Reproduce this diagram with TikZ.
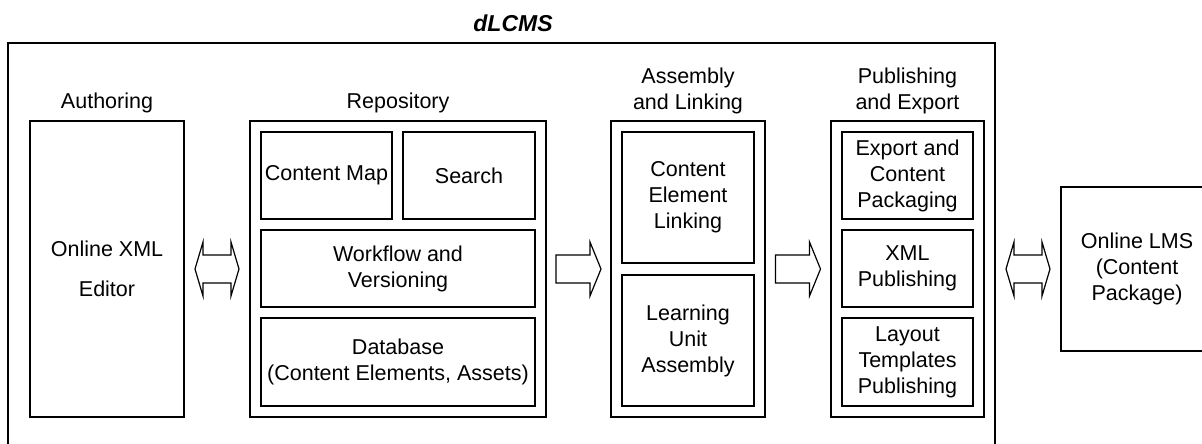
\documentclass[tikz,border=0pt]{standalone}
\usepackage{fontspec}
\setmainfont{Liberation Sans}
\usetikzlibrary{calc}
\tikzset{
  lw/.style={line width=1.2pt},
  txt/.style={font=\fontsize{21.5}{26}\selectfont, align=center, inner sep=0pt},
  box/.style={txt, draw, lw, minimum width=#1},
  box/.default=131pt,
  blockarrow/.style={draw, lw, fill=white, line join=miter},
  rarrow/.pic={\path[blockarrow] (-22.5,-14) -- (11.5,-14) -- (11.5,-27) -- (22.5,0) -- (11.5,27) -- (11.5,14) -- (-22.5,14) -- cycle;},
  darrow/.pic={\path[blockarrow] (-22,0) -- (-14,-27) -- (-14,-14) -- (14,-14) -- (14,-27) -- (22,0) -- (14,27) -- (14,14) -- (-14,14) -- (-14,27) -- cycle;},
}
\begin{document}
\begin{tikzpicture}[x=1pt,y=-1pt]
\useasboundingbox (0,0) rectangle (1202,444);
\fill[white] (0,0) rectangle (1202,444);
\clip (0,0) rectangle (1202,444);

% outer dLCMS frame (bottom edge outside the picture)
\coordinate (oBL) at (8,470);
\coordinate (oBR) at (995,470);
\draw[lw] (oBL) -- (8,43) -- (995,43) -- (oBR);
\node[txt, font=\fontsize{23}{26}\selectfont\bfseries\itshape, anchor=base] (title) at (513,32) {dLCMS};

% column headings
\node[txt, anchor=base] (hAuth) at (107,108) {Authoring};
\node[txt, anchor=base] (hRepo) at (398,108) {Repository};
\node[txt, anchor=north] (hAsm) at (688,67.3) {Assembly\\and Linking};
\node[txt, anchor=north] (hPub) at (907.5,67.3) {Publishing\\and Export};

% Authoring
\node[box=154pt, minimum height=296pt] (auth) at (107,269) {Online XML\\[14pt]Editor};

% Repository
\node[box=296pt, minimum height=296pt] (repo) at (398,269) {};
\node[box=131pt, minimum height=87pt] (cmap) at (326.5,175.5) {Content Map};
\node[box=132pt, minimum height=87pt] (search) at (469,175.5) {Search};
\node[box=274pt, minimum height=77pt] (wf) at (398,268.5) {Workflow and\\Versioning};
\node[box=274pt, minimum height=88pt] (db) at (398,362) {Database\\(Content Elements, Assets)};

% Assembly and Linking
\node[box=154pt, minimum height=296pt] (asm) at (688,269) {};
\node[box=132pt, minimum height=131pt] (cel) at (688,197.5) {Content\\Element\\Linking};
\node[box=132pt, minimum height=131pt] (lua) at (688,340.5) {Learning\\Unit\\Assembly};

% Publishing and Export
\node[box=153pt, minimum height=296pt] (pub) at (907.5,269) {};
\node[box=131pt, minimum height=87pt] (exp) at (907.5,175.5) {Export and\\Content\\Packaging};
\node[box=131pt, minimum height=77pt] (xmlp) at (907.5,268.5) {XML\\Publishing};
\node[box=131pt, minimum height=88pt] (lay) at (907.5,362) {Layout\\Templates\\Publishing};

% Online LMS (right edge outside the picture)
\coordinate (lmsTL) at (1061,187);
\draw[lw] (1230,187) -- (lmsTL) -- (1061,351) -- (1230,351);
\node[txt] (lms) at (1137,269) {Online LMS\\(Content\\Package)};

% block arrows
\coordinate (oR) at (995,269);
\pic at ($(auth.east)!0.5!(repo.west)$) {darrow};
\pic at ($(repo.east)!0.5!(asm.west)$) {rarrow};
\pic at ($(asm.east)!0.5!(pub.west)$) {rarrow};
\pic at ($(oR)!0.5!(lmsTL|-oR)$) {darrow};
\end{tikzpicture}
\end{document}
